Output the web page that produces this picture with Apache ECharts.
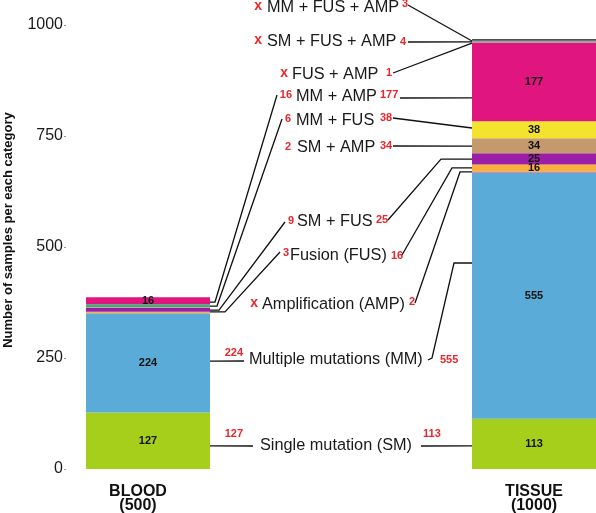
<!DOCTYPE html>
<html><head><meta charset="utf-8">
<script src="https://cdn.jsdelivr.net/npm/echarts@6/dist/echarts.min.js"></script>
<style>html,body{margin:0;padding:0;background:#fff}#c{width:596px;height:513px}</style>
</head><body><div id="c"></div>
<script>
// ---- data ----
const groups = ['BLOOD\n(500)', 'TISSUE\n(1000)'];
const seriesNames = ['SM', 'MM', 'AMP', 'FUS', 'SM + FUS', 'SM + AMP', 'MM + FUS', 'MM + AMP', 'FUS + AMP', 'SM + FUS + AMP', 'MM + FUS + AMP'];
const labelTexts = ['Single mutation (SM)', 'Multiple mutations (MM)', 'Amplification (AMP)', 'Fusion (FUS)', 'SM + FUS', 'SM + AMP', 'MM + FUS', 'MM + AMP', 'FUS + AMP', 'SM + FUS + AMP', 'MM + FUS + AMP'];
const bloodValues = [127, 224, 0, 3, 9, 2, 6, 16, 0, 0, 0];
const tissueValues = [113, 555, 2, 16, 25, 34, 38, 177, 1, 4, 3];
const yTicks = [0, 250, 500, 750, 1000];
const yTitle = 'Number of samples per each category';

// ---- styles / layout ----
const colors = ['#a6cf1c', '#5aabd7', '#e8506a', '#fbb03b', '#9b1ea6', '#c49a6c', '#f3e22e', '#e0157f', '#777777', '#a0a0a0', '#151515'];
const bloodColorOverride = {6: '#35b37a'};
const FONT = "'Liberation Sans', Arial, sans-serif";
const BAR_W = 124;

const chart = echarts.init(document.getElementById('c'), null, {renderer: 'canvas'});
const axisCats = [groups[0], '', groups[1]];

const series = seriesNames.map((name, i) => ({
  name: name,
  type: 'bar',
  stack: 'total',
  barWidth: BAR_W,
  itemStyle: {color: colors[i]},
  label: {
    show: true, position: 'inside', color: '#111', fontFamily: FONT,
    fontWeight: 'bold', fontSize: 11,
    formatter: p => (p.value >= 15 ? String(p.value) : '')
  },
  data: [
    bloodColorOverride[i] ? {value: bloodValues[i], itemStyle: {color: bloodColorOverride[i]}} : bloodValues[i],
    '-',
    tissueValues[i]
  ]
}));

chart.setOption({
  animation: false,
  backgroundColor: '#fff',
  grid: {left: 51.5, width: 579, top: 25, bottom: 44, containLabel: false, outerBoundsMode: 'none'},
  xAxis: {
    type: 'category',
    data: axisCats.map((c, i) => i === 0 ? {value: c, textStyle: {padding: [0, 20, 0, 0]}} : c),
    axisLine: {show: false}, axisTick: {show: false},
    axisLabel: {
      interval: 0, margin: 16, fontFamily: FONT, fontWeight: 'bold',
      fontSize: 16, lineHeight: 14, color: '#111'
    }
  },
  yAxis: {
    type: 'value', min: yTicks[0], max: yTicks[yTicks.length - 1],
    interval: yTicks[1] - yTicks[0], offset: -14.5,
    splitLine: {show: false},
    axisLine: {show: false},
    axisTick: {show: true, length: 2, lineStyle: {color: '#999'}},
    axisLabel: {margin: 3, fontFamily: FONT, fontSize: 16, color: '#1a1a1a', formatter: v => String(v)}
  },
  series: series
});

// ---- annotations ----
const annot = [
  {t: [260, 446], l: [243, 434], r: [423, 434]},
  {t: [249, 360], l: [243, 353], r: [440, 360]},
  {t: [262, 305], l: [258, 305], r: [409, 302]},
  {t: [290, 256], l: [289, 253], r: [391, 256]},
  {t: [297, 222], l: [294, 221], r: [376, 220]},
  {t: [297, 148], l: [291, 147], r: [380, 146]},
  {t: [296, 121], l: [291, 119], r: [380, 118]},
  {t: [296, 97], l: [292, 95], r: [380, 95]},
  {t: [292, 75], l: [288, 75], r: [386, 73]},
  {t: [267, 42], l: [262, 42], r: [400, 42]},
  {t: [267, 8], l: [262, 8], r: [402, 4]}
];
const leaders = [
  {side: 0, from: [253, 446], v: 52},
  {side: 2, from: [421, 446], v: 52},
  {side: 0, from: [244, 361], v: 243},
  {side: 2, from: [428, 360], mid: [[432, 358]], elbowX: 454, v: 464},
  {side: 2, from: [415, 303], elbowX: 460, v: 669},
  {side: 0, from: [280, 252], elbowX: 225, v: 354},
  {side: 2, from: [402, 255], elbowX: 452, v: 678},
  {side: 0, from: [285, 222], elbowX: 219, v: 358},
  {side: 2, from: [388, 220], elbowX: 441, v: 698},
  {side: 2, from: [393, 146], v: 727},
  {side: 0, from: [282, 119], elbowX: 217, v: 367},
  {side: 2, from: [393, 118], v: 768},
  {side: 0, from: [277, 95], elbowX: 215, v: 376},
  {side: 2, from: [400, 98], v: 836},
  {side: 2, from: [393, 73], v: 959},
  {side: 2, from: [408, 42], v: 962},
  {side: 2, from: [408, 5], v: 964}
];

const g = [];
g.push({
  type: 'text', x: 8, y: 230, rotation: Math.PI / 2,
  style: {text: yTitle, fontFamily: FONT, fontWeight: 'bold', fontSize: 13, fill: '#111', align: 'center', verticalAlign: 'middle'}
});
const RED = '#e8262b';
annot.forEach((a, i) => {
  g.push({type: 'text', x: a.t[0], y: a.t[1], style: {text: labelTexts[i], fontFamily: FONT, fontSize: 16.3, fill: '#1a1a1a', align: 'left', verticalAlign: 'middle'}});
  if (bloodValues[i] === 0) {
    g.push({type: 'text', x: a.l[0], y: a.l[1] - 2, style: {text: 'x', fontFamily: FONT, fontWeight: 'bold', fontSize: 14, fill: RED, align: 'right', verticalAlign: 'middle'}});
  } else {
    g.push({type: 'text', x: a.l[0], y: a.l[1], style: {text: String(bloodValues[i]), fontFamily: FONT, fontWeight: 'bold', fontSize: 11, fill: RED, align: 'right', verticalAlign: 'middle'}});
  }
  g.push({type: 'text', x: a.r[0], y: a.r[1], style: {text: String(tissueValues[i]), fontFamily: FONT, fontWeight: 'bold', fontSize: 11, fill: RED, align: 'left', verticalAlign: 'middle'}});
});
leaders.forEach(ld => {
  const p = chart.convertToPixel({gridIndex: 0}, [ld.side, ld.v]);
  const edgeX = ld.side === 0 ? p[0] + BAR_W / 2 : p[0] - BAR_W / 2;
  const pts = [ld.from].concat(ld.mid || []);
  if (ld.elbowX !== undefined) pts.push([ld.elbowX, p[1]]);
  pts.push([edgeX, p[1]]);
  g.push({type: 'polyline', shape: {points: pts}, style: {stroke: '#111', lineWidth: 1.3, fill: null}});
});
chart.setOption({graphic: g});
</script>
</body></html>
